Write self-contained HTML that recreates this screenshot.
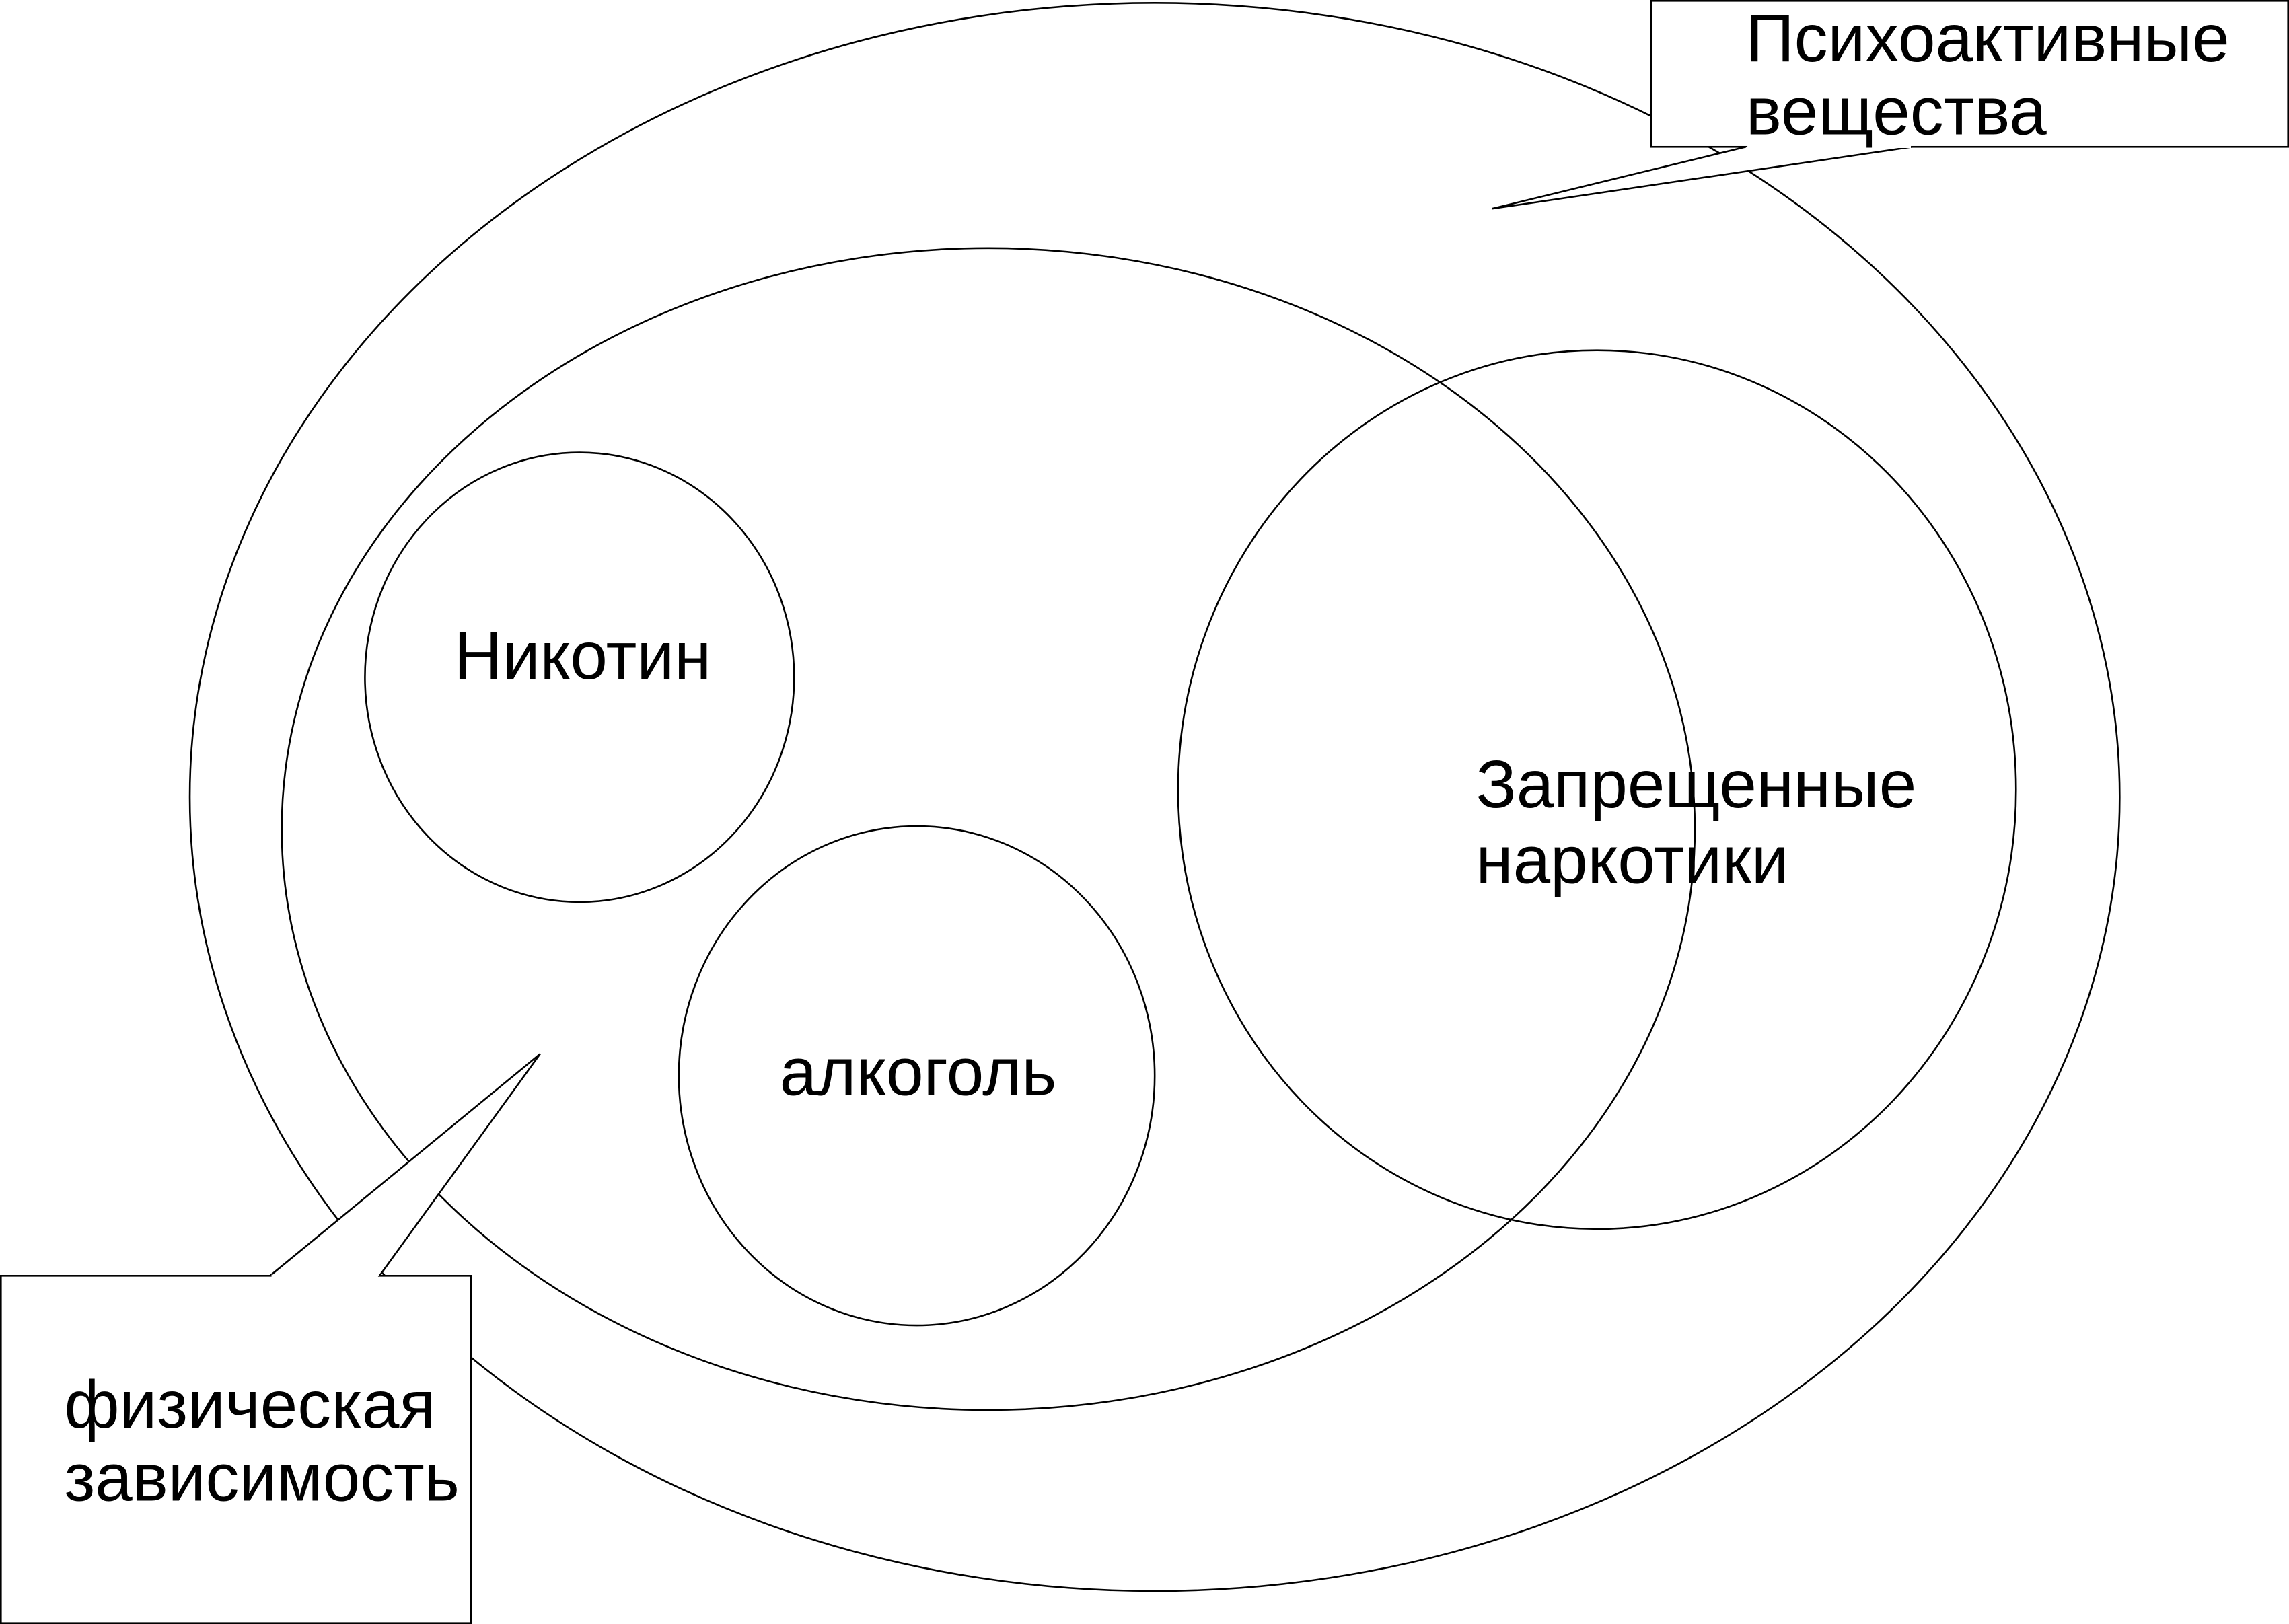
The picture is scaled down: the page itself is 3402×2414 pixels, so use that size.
<!DOCTYPE html>
<html><head><meta charset="utf-8"><style>
html,body{margin:0;padding:0;background:#fff;}
svg{display:block;}
text{font-family:"Liberation Sans",sans-serif;font-size:46px;fill:#000;}
</style></head><body>
<svg width="3402" height="2414" viewBox="0 0 1568 1112.6" preserveAspectRatio="none" xmlns="http://www.w3.org/2000/svg">
<g fill="none" stroke="#000" stroke-width="1.2">
<ellipse cx="791" cy="546" rx="661" ry="544"/>
<ellipse cx="677" cy="568" rx="484" ry="398"/>
<ellipse cx="397" cy="464" rx="147" ry="154"/>
<ellipse cx="628" cy="737" rx="163" ry="171"/>
<ellipse cx="1094" cy="541" rx="287" ry="301"/>
</g>
<rect x="1131" y="0.6" width="436.4" height="100" fill="#fff" stroke="#000" stroke-width="1.2"/>
<path d="M1196 100.6 L1022 143 L1310 100.6" fill="#fff" stroke="#000" stroke-width="1.2"/>
<line x1="1197" y1="100.6" x2="1309" y2="100.6" stroke="#fff" stroke-width="1.6"/>
<rect x="0.6" y="874" width="322" height="238" fill="#fff" stroke="#000" stroke-width="1.2"/>
<path d="M185 874 L370 722 L260 874" fill="#fff" stroke="#000" stroke-width="1.2"/>
<line x1="186" y1="874" x2="259" y2="874" stroke="#fff" stroke-width="1.6"/>
<text x="1196" y="42">Психоактивные</text>
<text x="1196" y="92">вещества</text>
<text x="311" y="465">Никотин</text>
<text x="534" y="750">алкоголь</text>
<text x="1011" y="553">Запрещенные</text>
<text x="1011" y="605">наркотики</text>
<text x="44" y="978">физическая</text>
<text x="44" y="1028">зависимость</text>
</svg>
</body></html>
